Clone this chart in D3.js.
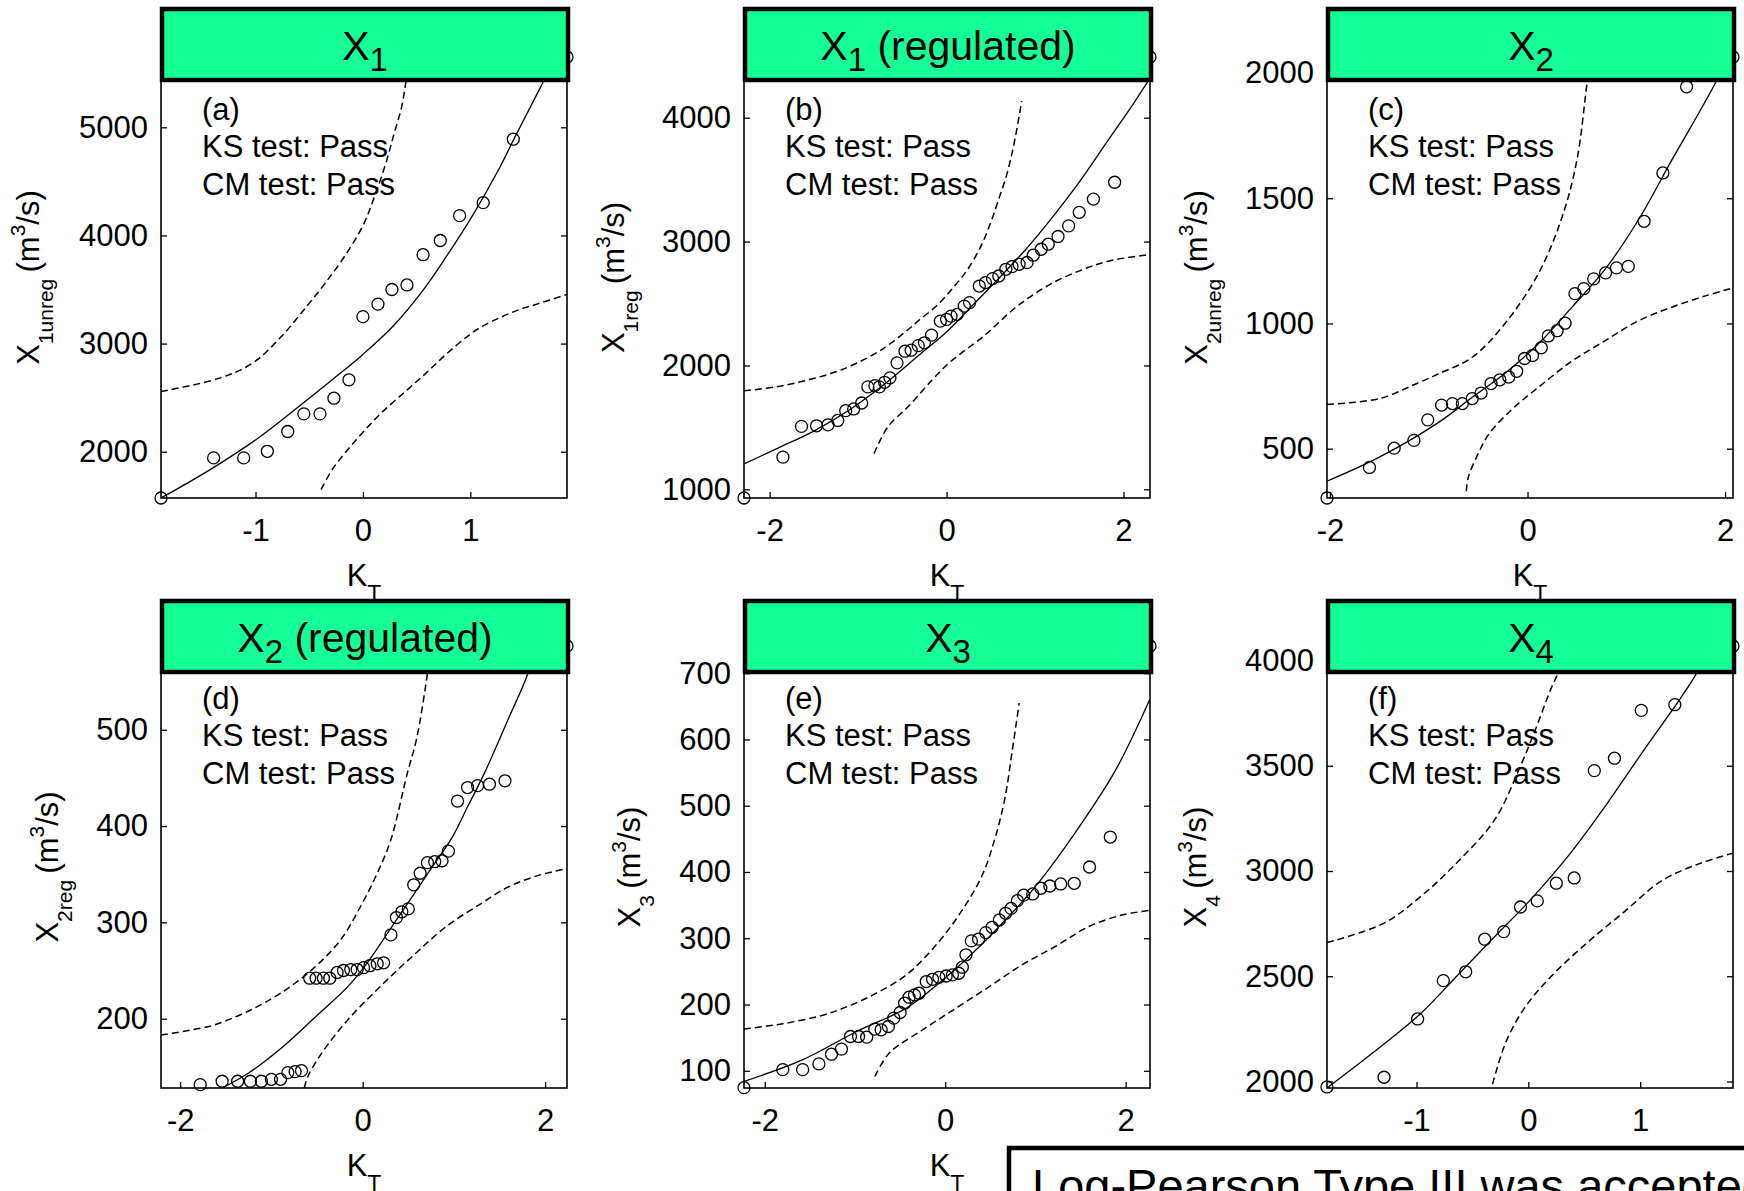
<!DOCTYPE html>
<html>
<head>
<meta charset="utf-8">
<script src="https://cdn.jsdelivr.net/npm/d3@7"></script>
<style>
  body { margin: 0; background: #fff; }
  svg { display: block; background: #fff; }
  text { font-family: "Liberation Sans", Arial, Helvetica, sans-serif; fill: #000; }
</style>
</head>
<body>
<svg id="chart" width="1744" height="1191"></svg>
<script>
// observed quantiles, fitted LP3 curve and the two confidence limits, [K_T, X]
const obsA = [[-1.88,1572],[-1.39,1943],[-1.11,1943],[-0.89,2004],[-0.70,2187],[-0.55,2350],[-0.40,2350],[-0.27,2495],[-0.13,2665],[0.00,3249],[0.14,3365],[0.27,3500],[0.41,3542],[0.56,3822],[0.72,3953],[0.90,4183],[1.12,4303],[1.40,4890],[1.90,5650]]
const fitA = [[-1.88,1572],[-1.43,1830],[-0.97,2130],[-0.62,2400],[-0.28,2670],[0.00,2900],[0.28,3160],[0.55,3480],[0.76,3780],[1.03,4200],[1.28,4640],[1.40,4880],[1.55,5170],[1.72,5500],[1.80,5650]]
const upA = [[-1.88,2557],[-1.35,2676],[-1.03,2817],[-0.76,3065],[-0.52,3348],[-0.35,3560],[-0.17,3808],[0.00,4091],[0.10,4338],[0.21,4657],[0.29,4940],[0.36,5187],[0.40,5417],[0.44,5650]]
const loA = [[-0.39,1650],[-0.28,1844],[-0.14,2021],[0.00,2180],[0.17,2357],[0.41,2570],[0.59,2729],[0.76,2888],[0.97,3065],[1.10,3153],[1.28,3242],[1.45,3312],[1.62,3365],[1.90,3454]]

const obsB = [[-2.29,930],[-1.85,1260],[-1.64,1508],[-1.47,1513],[-1.34,1521],[-1.23,1556],[-1.14,1635],[-1.05,1649],[-0.96,1697],[-0.89,1827],[-0.81,1837],[-0.76,1827],[-0.70,1864],[-0.64,1900],[-0.56,2021],[-0.47,2115],[-0.40,2123],[-0.32,2160],[-0.25,2183],[-0.17,2245],[-0.07,2358],[0.00,2372],[0.05,2398],[0.12,2412],[0.20,2479],[0.26,2507],[0.37,2641],[0.44,2669],[0.52,2701],[0.59,2722],[0.67,2776],[0.74,2798],[0.82,2817],[0.91,2831],[0.98,2890],[1.07,2938],[1.15,2979],[1.26,3041],[1.38,3127],[1.50,3236],[1.66,3343],[1.90,3479],[2.30,4490]]
const fitB = [[-2.29,1205],[-1.90,1335],[-1.50,1470],[-1.10,1640],[-0.70,1850],[-0.30,2090],[0.00,2270],[0.30,2490],[0.60,2710],[0.90,2940],[1.20,3200],[1.50,3480],[1.80,3790],[2.10,4100],[2.30,4320]]
const upB = [[-2.29,1795],[-1.93,1827],[-1.55,1886],[-1.18,1967],[-0.81,2095],[-0.62,2185],[-0.45,2280],[-0.32,2360],[-0.10,2490],[0.09,2641],[0.24,2777],[0.39,2965],[0.50,3155],[0.59,3343],[0.68,3540],[0.76,3780],[0.85,4133]]
const loB = [[-0.82,1288],[-0.66,1508],[-0.43,1670],[-0.16,1886],[0.05,2034],[0.42,2237],[0.80,2479],[1.17,2655],[1.55,2777],[1.84,2844],[2.30,2896]]

const obsC = [[-2.03,303],[-1.60,425],[-1.35,502],[-1.15,533],[-1.01,615],[-0.87,674],[-0.76,680],[-0.66,680],[-0.56,700],[-0.47,722],[-0.37,760],[-0.28,775],[-0.19,786],[-0.11,809],[-0.03,860],[0.05,872],[0.14,903],[0.21,950],[0.30,971],[0.38,1001],[0.48,1119],[0.57,1139],[0.67,1178],[0.79,1202],[0.90,1222],[1.02,1228],[1.18,1408],[1.37,1601],[1.61,1945],[2.08,2064]]
const fitC = [[-2.03,370],[-1.50,466],[-0.90,605],[-0.56,705],[-0.23,800],[0.11,919],[0.45,1065],[0.79,1219],[1.12,1412],[1.46,1652],[1.90,1959],[2.02,2064]]
const upC = [[-2.03,677],[-1.50,700],[-1.10,764],[-0.90,799],[-0.56,865],[-0.23,999],[0.11,1199],[0.35,1425],[0.50,1652],[0.60,1952],[0.64,2064]]
const loC = [[-0.62,330],[-0.60,385],[-0.50,480],[-0.39,559],[-0.15,660],[0.11,745],[0.45,850],[0.79,932],[1.12,1010],[1.46,1065],[1.80,1110],[2.08,1142]]

const obsD = [[-1.78,131.5],[-1.54,135],[-1.37,135],[-1.23,135],[-1.11,135],[-1.00,137],[-0.90,137],[-0.82,144],[-0.74,145],[-0.67,146],[-0.58,242],[-0.51,242],[-0.43,242],[-0.36,242],[-0.28,248],[-0.21,250],[-0.13,251],[-0.06,251],[0.01,253],[0.08,255],[0.16,257],[0.23,258],[0.31,287],[0.37,305],[0.43,311],[0.50,314],[0.56,339],[0.63,351],[0.71,362],[0.79,363],[0.87,364],[0.94,374],[1.04,426],[1.15,440],[1.26,442],[1.39,443.5],[1.56,447],[2.24,587]]
const fitD = [[-1.54,128],[-1.25,143.6],[-0.89,169.6],[-0.53,200.7],[-0.16,233.5],[0.05,258],[0.31,294],[0.56,329],[0.78,360],[0.98,388],[1.15,420],[1.34,456],[1.60,512],[1.82,561],[1.87,587]]
const upD = [[-2.21,183],[-1.78,190],[-1.61,194],[-1.25,208],[-0.89,227],[-0.53,253],[-0.24,282],[-0.02,317],[0.16,351],[0.31,386],[0.49,455],[0.59,490],[0.71,558],[0.75,587]]
const loD = [[-0.64,128],[-0.60,140],[-0.45,164],[-0.16,199],[0.20,234],[0.56,266],[0.92,296],[1.29,319],[1.58,336],[1.90,348],[2.24,356]]

const obsE = [[-2.23,74.5],[-1.80,101.7],[-1.58,101.7],[-1.40,110.4],[-1.26,125],[-1.15,132.7],[-1.05,151.7],[-0.96,151.7],[-0.87,150.8],[-0.78,162.8],[-0.71,161.8],[-0.63,166.8],[-0.57,179.4],[-0.50,187.9],[-0.45,202],[-0.40,211],[-0.34,214.5],[-0.29,217],[-0.21,234.6],[-0.14,238],[-0.07,241],[0.01,243],[0.08,244.7],[0.15,247.2],[0.19,256.3],[0.23,275],[0.29,296],[0.37,298.6],[0.45,308.5],[0.52,316.5],[0.60,327.6],[0.67,337.6],[0.73,345],[0.80,356.7],[0.87,365],[0.97,366.8],[1.06,375.4],[1.16,378.8],[1.28,381.9],[1.43,382.9],[1.60,407.5],[1.83,452.7],[2.27,741]]
const fitE = [[-2.23,84],[-1.59,116],[-0.97,160],[-0.43,194.5],[-0.07,232],[0.30,277],[0.67,328],[1.00,378],[1.48,467],[1.89,554],[2.27,661]]
const upE = [[-2.23,163],[-1.80,171],[-1.38,183],[-1.13,194.5],[-0.80,214.5],[-0.43,244.7],[-0.07,294.9],[0.19,342.7],[0.41,395],[0.55,450],[0.66,510],[0.74,580],[0.82,655]]
const loE = [[-0.78,91.4],[-0.62,126.7],[-0.25,161.8],[0.12,194.5],[0.49,227],[0.85,259.8],[1.22,287.5],[1.59,317.6],[1.96,335],[2.27,342]]

const obsF = [[-1.80,1974],[-1.29,2020],[-0.99,2297],[-0.76,2479],[-0.56,2521],[-0.39,2676],[-0.22,2712],[-0.07,2829],[0.08,2858],[0.25,2942],[0.41,2967],[0.59,3477],[0.77,3536],[1.01,3763],[1.31,3790],[1.83,4069]]
const fitF = [[-1.80,1969],[-1.29,2178],[-0.96,2324],[-0.63,2506],[-0.30,2689],[0.00,2852],[0.37,3080],[0.70,3317],[1.03,3572],[1.36,3820],[1.51,3945],[1.62,4069]]
const upF = [[-1.80,2660],[-1.29,2752],[-0.96,2880],[-0.63,3044],[-0.30,3244],[-0.07,3499],[0.07,3681],[0.20,3863],[0.27,3945],[0.35,4069]]
const loF = [[-0.32,1987],[-0.20,2188],[-0.03,2352],[0.20,2497],[0.53,2661],[0.86,2807],[1.19,2953],[1.53,3035],[1.83,3085]]

// tick values
const ticksA = { x: [-1, 0, 1], y: [2000, 3000, 4000, 5000] }
const ticksB = { x: [-2, 0, 2], y: [1000, 2000, 3000, 4000] }
const ticksC = { x: [-2, 0, 2], y: [500, 1000, 1500, 2000] }
const ticksD = { x: [-2, 0, 2], y: [200, 300, 400, 500] }
const ticksE = { x: [-2, 0, 2], y: [100, 200, 300, 400, 500, 600, 700] }
const ticksF = { x: [-1, 0, 1], y: [2000, 2500, 3000, 3500, 4000] }

// plot boxes in pixels
const colX = [[161, 567], [744, 1150], [1327, 1733]]
const rowY = [[57, 498], [646, 1088]]
const boxTop = [9, 601]

const panels = [
    {tag: '(a)', col: 0, row: 0, tSub: '1', tRest: '', ySub: '1unreg', labX: 39, xDom: [-1.88, 1.90], yDom: [1572, 5650], ticks: ticksA, obs: obsA, fit: fitA, up: upA, lo: loA},
    {tag: '(b)', col: 1, row: 0, tSub: '1', tRest: ' (regulated)', ySub: '1reg', labX: 624, xDom: [-2.29, 2.30], yDom: [930, 4490], ticks: ticksB, obs: obsB, fit: fitB, up: upB, lo: loB},
    {tag: '(c)', col: 2, row: 0, tSub: '2', tRest: '', ySub: '2unreg', labX: 1207, xDom: [-2.03, 2.08], yDom: [303, 2064], ticks: ticksC, obs: obsC, fit: fitC, up: upC, lo: loC},
    {tag: '(d)', col: 0, row: 1, tSub: '2', tRest: ' (regulated)', ySub: '2reg', labX: 58, xDom: [-2.21, 2.24], yDom: [128, 587], ticks: ticksD, obs: obsD, fit: fitD, up: upD, lo: loD},
    {tag: '(e)', col: 1, row: 1, tSub: '3', tRest: '', ySub: '3', labX: 640, xDom: [-2.23, 2.27], yDom: [74, 741], ticks: ticksE, obs: obsE, fit: fitE, up: upE, lo: loE},
    {tag: '(f)', col: 2, row: 1, tSub: '4', tRest: '', ySub: '4', labX: 1206, xDom: [-1.80, 1.83], yDom: [1969, 4069], ticks: ticksF, obs: obsF, fit: fitF, up: upF, lo: loF}
]

const svg = d3.select('#chart')
const fontSize = 31

function styleAxis(g) {
    g.attr('font-size', fontSize)
     .attr('font-family', '"Liberation Sans", Arial, sans-serif')
    g.select('.domain').remove()
    g.selectAll('line').attr('stroke', '#000').attr('stroke-width', 1.3)
    g.selectAll('text').attr('fill', '#000')
}

function drawPanel(p, i) {
    let [x0, x1] = colX[p.col]
    let [y0, y1] = rowY[p.row]
    let x = d3.scaleLinear().domain(p.xDom).range([x0, x1])
    let y = d3.scaleLinear().domain(p.yDom).range([y1, y0])
    let g = svg.append('g').attr('class', 'panel')

    g.append('clipPath').attr('id', 'clip' + i)
        .append('rect')
        .attr('x', x0).attr('y', y0)
        .attr('width', x1 - x0).attr('height', y1 - y0)

    let line = d3.line()
        .x(d => x(d[0]))
        .y(d => y(d[1]))
        .curve(d3.curveCatmullRom.alpha(0.5))

    let lines = g.append('g').attr('clip-path', `url(#clip${i})`)
    lines.append('path').datum(p.fit)
        .attr('d', line)
        .attr('fill', 'none').attr('stroke', '#000').attr('stroke-width', 1.3)
    ;[p.up, p.lo].forEach(band => {
        lines.append('path').datum(band)
            .attr('d', line)
            .attr('fill', 'none').attr('stroke', '#000').attr('stroke-width', 1.5)
            .attr('stroke-dasharray', '7,4')
    })

    // markers are not clipped (MATLAB style)
    g.append('g').selectAll('circle')
        .data(p.obs)
        .join('circle')
        .attr('cx', d => x(d[0]))
        .attr('cy', d => y(d[1]))
        .attr('r', 6)
        .attr('fill', 'none')
        .attr('stroke', '#000')
        .attr('stroke-width', 1.3)

    // frame and inward ticks on all four sides
    g.append('g').attr('transform', `translate(${x0},0)`)
        .call(d3.axisLeft(y).tickValues(p.ticks.y).tickSize(-6).tickPadding(13).tickFormat(d => String(d)))
        .call(styleAxis)
    g.append('g').attr('transform', `translate(${x1},0)`)
        .call(d3.axisRight(y).tickValues(p.ticks.y).tickSize(-6).tickFormat(''))
        .call(styleAxis)
    g.append('g').attr('transform', `translate(0,${y1})`)
        .call(d3.axisBottom(x).tickValues(p.ticks.x).tickSize(-6).tickPadding(21).tickFormat(d => String(d)))
        .call(styleAxis)
    g.append('g').attr('transform', `translate(0,${y0})`)
        .call(d3.axisTop(x).tickValues(p.ticks.x).tickSize(-6).tickFormat(''))
        .call(styleAxis)
    g.append('rect')
        .attr('x', x0).attr('y', y0)
        .attr('width', x1 - x0).attr('height', y1 - y0)
        .attr('fill', 'none').attr('stroke', '#000').attr('stroke-width', 1.6)

    // panel tag and test results
    let notes = [p.tag, 'KS test: Pass', 'CM test: Pass']
    let noteY = [63, 100, 138]
    notes.forEach((t, k) => {
        g.append('text')
            .attr('x', x0 + 41).attr('y', y0 + noteY[k])
            .attr('font-size', fontSize)
            .text(t)
    })

    // y label, rotated
    let yl = g.append('text')
        .attr('transform', `translate(${p.labX},${(y0 + y1) / 2}) rotate(-90)`)
        .attr('text-anchor', 'middle')
        .attr('font-size', fontSize)
    yl.append('tspan').text('X')
    yl.append('tspan').attr('font-size', 21).attr('dy', 14).text(p.ySub)
    yl.append('tspan').attr('dy', -14).text('\u2009(m')
    yl.append('tspan').attr('font-size', 21).attr('dy', -14).text('3')
    yl.append('tspan').attr('dy', 14).text('/s)')

    // x label K_T
    let xl = g.append('text')
        .attr('x', (x0 + x1) / 2).attr('y', y1 + 88)
        .attr('text-anchor', 'middle')
        .attr('font-size', fontSize)
    xl.append('tspan').text('K')
    xl.append('tspan').attr('font-size', 23).attr('dy', 16).text('T')
}

panels.forEach(drawPanel)

// green title boxes go on top (they hide the row above's K_T subscript)
panels.forEach(p => {
    let [x0, x1] = colX[p.col]
    let top = boxTop[p.row]
    svg.append('rect')
        .attr('x', x0 + 1).attr('y', top)
        .attr('width', x1 - x0).attr('height', 71)
        .attr('fill', '#14ff96')
        .attr('stroke', '#000').attr('stroke-width', 4.5)
    let t = svg.append('text')
        .attr('x', (x0 + x1) / 2 + 1).attr('y', top + 51)
        .attr('text-anchor', 'middle')
        .attr('font-size', 41)
    t.append('tspan').text('X')
    t.append('tspan').attr('font-size', 33).attr('dy', 11).text(p.tSub)
    if (p.tRest) t.append('tspan').attr('dy', -11).text(p.tRest)
})

// conclusion box, cut by the bottom-right edge of the figure
svg.append('rect')
    .attr('x', 1009).attr('y', 1148)
    .attr('width', 900).attr('height', 120)
    .attr('fill', '#fff')
    .attr('stroke', '#000').attr('stroke-width', 4.5)
svg.append('text')
    .attr('x', 1032).attr('y', 1202)
    .attr('font-size', 47)
    .text('Log-Pearson Type III was accepted')
</script>
</body>
</html>
